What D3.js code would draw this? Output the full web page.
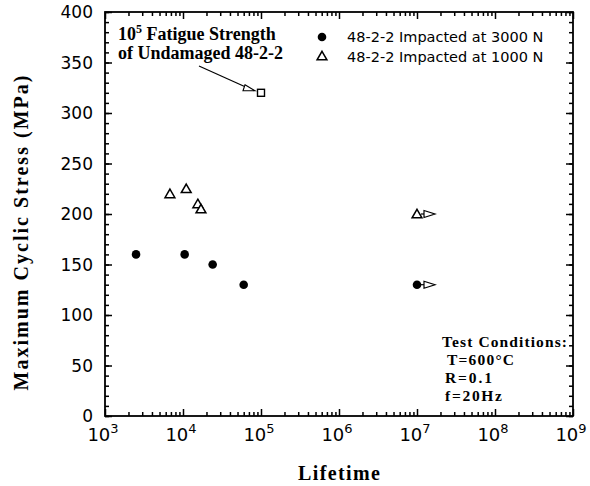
<!DOCTYPE html>
<html><head><meta charset="utf-8">
<script src="https://cdn.jsdelivr.net/npm/d3@7"></script>
<style>
body{margin:0;background:#fff;}
svg{display:block;}
.ax path,.ax line{stroke:#000;stroke-width:1.5;}
.ax text{display:none;}
</style></head>
<body>
<svg id="c" width="590" height="486"></svg>
<script>
// ---- data ----
const impact3000 = [[2500,160],[10500,160],[24000,150],[60000,130]];
const impact3000Runout = [[1e7,130]];
const impact1000 = [[6800,220],[11000,225],[15500,210],[17000,205]];
const impact1000Runout = [[1e7,200]];
const undamaged = [[1e5,320]];
const xExponents = [3,4,5,6,7,8,9];
const yTicks = [0,50,100,150,200,250,300,350,400];
const legendLabels = ["48-2-2 Impacted at 3000 N","48-2-2 Impacted at 1000 N"];
const annotationLines = ["Fatigue Strength","of Undamaged 48-2-2"];
const conditions = ["Test Conditions:","T=600°C","R=0.1","f=20Hz"];

const svg = d3.select("#c");
const L=105,R=573,T=12,B=416;
const x = d3.scaleLog().domain([1e3,1e9]).range([L,R]);
const y = d3.scaleLinear().domain([0,400]).range([B,T]);

const majorX = xExponents.map(e=>Math.pow(10,e));
const minorX = [];
for(let e=3;e<9;e++) for(let k=2;k<=9;k++) minorX.push(k*Math.pow(10,e));
const minorY = d3.range(0,401,10);

// frame
svg.append("rect").attr("x",L).attr("y",T).attr("width",R-L).attr("height",B-T)
  .attr("fill","none").attr("stroke","#000").attr("stroke-width",1.8);

function ax(gen, tr){
  const g = svg.append("g").attr("class","ax").attr("transform",tr).call(gen);
  g.select(".domain").remove();
  return g;
}
ax(d3.axisBottom(x).tickValues(minorX).tickSize(-4).tickFormat(""),`translate(0,${B})`);
ax(d3.axisBottom(x).tickValues(majorX).tickSize(-7).tickFormat(""),`translate(0,${B})`);
ax(d3.axisTop(x).tickValues(minorX).tickSize(-4).tickFormat(""),`translate(0,${T})`);
ax(d3.axisTop(x).tickValues(majorX).tickSize(-7).tickFormat(""),`translate(0,${T})`);
ax(d3.axisLeft(y).tickValues(minorY).tickSize(-4).tickFormat(""),`translate(${L},0)`);
ax(d3.axisLeft(y).tickValues(yTicks).tickSize(-7).tickFormat(""),`translate(${L},0)`);
ax(d3.axisRight(y).tickValues(minorY).tickSize(-4).tickFormat(""),`translate(${R},0)`);
ax(d3.axisRight(y).tickValues(yTicks).tickSize(-7).tickFormat(""),`translate(${R},0)`);

// y tick labels
svg.append("g").selectAll("text").data(yTicks).join("text")
  .attr("x",L-12).attr("y",d=>y(d)+6).attr("text-anchor","end")
  .attr("font-family","DejaVu Sans").attr("font-size",17).text(d=>d);

// x tick labels
const xl = svg.append("g").selectAll("text").data(xExponents).join("text")
  .attr("x",d=>x(Math.pow(10,d))-2).attr("y",441).attr("text-anchor","middle")
  .attr("font-family","DejaVu Sans").attr("font-size",18);
xl.append("tspan").text("10");
xl.append("tspan").attr("dy",-8).attr("font-size",13).text(d=>d);

// axis titles
svg.append("text").attr("transform","translate(28,233) rotate(-90)")
  .attr("text-anchor","middle").attr("font-family","Liberation Serif").attr("font-weight","bold")
  .attr("font-size",20).attr("textLength",315).attr("lengthAdjust","spacing")
  .text("Maximum Cyclic Stress (MPa)");
svg.append("text").attr("x",339).attr("y",480).attr("text-anchor","middle")
  .attr("font-family","Liberation Serif").attr("font-weight","bold")
  .attr("font-size",20).attr("textLength",82).attr("lengthAdjust","spacing")
  .text("Lifetime");

// markers
const tri = d3.symbol().type(d3.symbolTriangle).size(42);
function circles(data){
  svg.append("g").selectAll("circle").data(data).join("circle")
    .attr("cx",d=>x(d[0])).attr("cy",d=>y(d[1])).attr("r",4.3).attr("fill","#000");
}
function triangles(data){
  svg.append("g").selectAll("path").data(data).join("path")
    .attr("d",tri).attr("transform",d=>`translate(${x(d[0])},${y(d[1])+1})`)
    .attr("fill","#fff").attr("stroke","#000").attr("stroke-width",1.5);
}
function runout(data){
  const g = svg.append("g").selectAll("g").data(data).join("g")
    .attr("transform",d=>`translate(${x(d[0])},${y(d[1])})`);
  g.append("line").attr("x1",4).attr("x2",16).attr("y1",0).attr("y2",0)
    .attr("stroke","#000").attr("stroke-width",1.2);
  g.append("path").attr("d","M7,-3.5 L18,0 L7,3.5 Z").attr("fill","#fff")
    .attr("stroke","#000").attr("stroke-width",1.2);
}
circles(impact3000); circles(impact3000Runout);
triangles(impact1000); triangles(impact1000Runout);
runout(impact3000Runout); runout(impact1000Runout);

svg.append("g").selectAll("rect").data(undamaged).join("rect")
  .attr("x",d=>x(d[0])-3.5).attr("y",d=>y(d[1])-3.5).attr("width",7).attr("height",7)
  .attr("fill","#fff").attr("stroke","#000").attr("stroke-width",1.4);

// annotation arrow to square
const sq = undamaged[0];
const tipX = x(sq[0])-6, tipY = y(sq[1])-2;
svg.append("line").attr("x1",199).attr("y1",66).attr("x2",tipX-1).attr("y2",tipY)
  .attr("stroke","#000").attr("stroke-width",1.2);
svg.append("path").attr("d",`M${tipX-10},${tipY-6} L${tipX},${tipY} L${tipX-12},${tipY+0} Z`)
  .attr("fill","#fff").attr("stroke","#000").attr("stroke-width",1.1);

// annotation text
const a1 = svg.append("text").attr("x",118).attr("y",40)
  .attr("font-family","Liberation Serif").attr("font-weight","bold").attr("font-size",18);
a1.append("tspan").text("10");
a1.append("tspan").attr("dy",-7).attr("font-size",12).text("5");
a1.append("tspan").attr("dy",7).text(" "+annotationLines[0]);
svg.append("text").attr("x",118).attr("y",59)
  .attr("font-family","Liberation Serif").attr("font-weight","bold").attr("font-size",18)
  .text(annotationLines[1]);

// legend
svg.append("circle").attr("cx",322).attr("cy",37).attr("r",4.3).attr("fill","#000");
svg.append("path").attr("d",tri).attr("transform","translate(322,57)")
  .attr("fill","#fff").attr("stroke","#000").attr("stroke-width",1.5);
svg.append("g").selectAll("text").data(legendLabels).join("text")
  .attr("x",347).attr("y",(d,i)=>42+i*19.5)
  .attr("font-family","DejaVu Sans").attr("font-size",14.5).text(d=>d);

// test conditions
const condX = [442,447,445,445];
const condW = [125,67,47,57];
svg.append("g").selectAll("text").data(conditions).join("text")
  .attr("x",(d,i)=>condX[i]).attr("y",(d,i)=>347+i*18)
  .attr("font-family","Liberation Serif").attr("font-weight","bold").attr("font-size",15.5)
  .attr("textLength",(d,i)=>condW[i]).attr("lengthAdjust","spacing")
  .text(d=>d);
</script>
</body></html>
